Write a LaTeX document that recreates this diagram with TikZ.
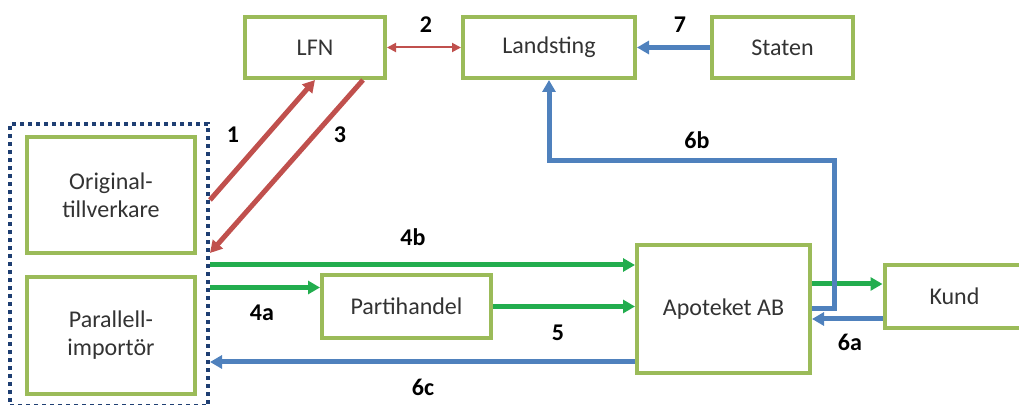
\documentclass[tikz,border=0pt]{standalone}
\usepackage{fontspec}
\setmainfont{Carlito}
\usepackage{xcolor}
\usepackage{tikz}
\usetikzlibrary{arrows.meta,calc}
\definecolor{boxgreen}{HTML}{9BBB59}
\definecolor{flowred}{HTML}{C0504D}
\definecolor{flowblue}{HTML}{4F81BD}
\definecolor{flowgreen}{HTML}{22AD4E}
\definecolor{navy}{HTML}{1F3F73}

\begin{document}
\begin{tikzpicture}[
    x=0.5pt, y=-0.5pt,
    actor/.style={draw=boxgreen, line width=2pt, fill=white, inner sep=0pt, align=center, text=black!80, font=\fontsize{12}{14}\selectfont},
    group/.style={draw=navy, line width=2pt, dash pattern=on 2pt off 2pt, inner sep=0pt},
    num/.style={font=\fontsize{12}{14}\selectfont\bfseries, text=black},
    redarr/.style={-{Triangle[length=6pt,width=6.5pt]}, line width=2.5pt, draw=flowred, color=flowred},
    bluearr/.style={-{Triangle[length=6pt,width=6.5pt]}, line width=2.5pt, draw=flowblue, color=flowblue},
    greenarr/.style={-{Triangle[length=6pt,width=6.5pt]}, line width=2.5pt, draw=flowgreen, color=flowgreen}
]
    \useasboundingbox (0,0) rectangle (1019,405);

    \node[group, minimum width=99pt, minimum height=141pt] (grp) at (109,265) {};
    \node[actor, minimum width=70pt, minimum height=30.5pt] (lfn) at (315,47.5) {LFN};
    \node[actor, minimum width=86pt, minimum height=30.5pt] (land) at (549,47.5) {Landsting};
    \node[actor, minimum width=70.5pt, minimum height=30.5pt] (staten) at (782.5,47.5) {Staten};
    \node[actor, minimum width=84pt, minimum height=58pt] (orig) at (111,195) {Original-\\tillverkare};
    \node[actor, minimum width=84pt, minimum height=58.5pt] (para) at (111,335.5) {Parallell-\\importör};
    \node[actor, minimum width=84.5pt, minimum height=31.5pt] (parti) at (406.5,306.5) {Partihandel};
    \node[actor, minimum width=150pt, minimum height=31.5pt, text width=140pt, align=left] (kund) at (1034.5,296.5) {\hspace*{17.5pt}Kund};
    \node[actor, minimum width=86.5pt, minimum height=64pt] (apo) at (723.5,309) {Apoteket AB};

    \coordinate (p4a) at ($(parti.west)+(0,-19)$);
    \coordinate (p6c) at ($(apo.west)+(0,53)$);
    \coordinate (pout) at ($(kund.west)+(0,-12.5)$);
    \coordinate (p6a) at ($(kund.west)+(0,22.5)$);

    \draw[redarr] ([yshift=32.5pt]grp.east) -- (lfn.south);
    \draw[redarr] ([xshift=-12pt]lfn.south east) -- ([yshift=6pt]grp.east);
    \draw[{Triangle[length=4.5pt,width=4.5pt]}-{Triangle[length=4.5pt,width=4.5pt]}, line width=1pt, draw=flowred, color=flowred] (lfn.east) -- (land.west);
    \draw[bluearr] (staten.west) -- (land.east);
    \draw[greenarr] (grp.east) -- (grp.east -| apo.west);
    \draw[greenarr] (grp.east |- p4a) -- (p4a);
    \draw[greenarr] (parti.east) -- (parti.east -| apo.west);
    \draw[greenarr] (pout -| apo.east) -- (pout);
    \draw[bluearr] (p6a) -- (p6a -| apo.east);
    \draw[bluearr] (p6c) -- (p6c -| grp.east);
    \draw[bluearr] (apo.east) -- ++(22,0) -- ++(0,-148) -| (land.south);

    \node[num] (n1) at (233,135) {1};
    \node[num] (n2) at (426,25) {2};
    \node[num] (n3) at (340,135) {3};
    \node[num] (n4a) at (262,313) {4a};
    \node[num] (n4b) at (413,237) {4b};
    \node[num] (n5) at (558,333) {5};
    \node[num] (n6a) at (850,342) {6a};
    \node[num] (n6b) at (697,140) {6b};
    \node[num] (n6c) at (423,387) {6c};
    \node[num] (n7) at (680,25) {7};
\end{tikzpicture}
\end{document}
